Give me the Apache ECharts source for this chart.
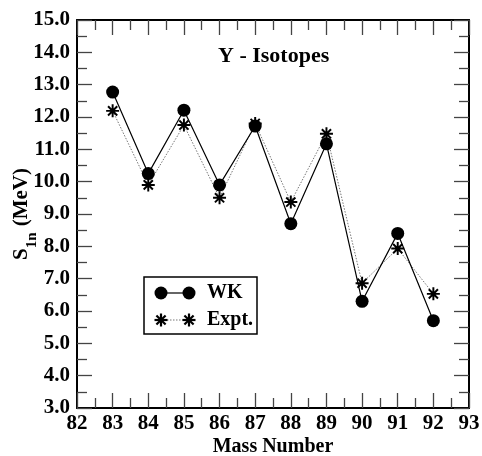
<!DOCTYPE html>
<html><head><meta charset="utf-8">
<script src="https://cdn.jsdelivr.net/npm/echarts@6/dist/echarts.min.js"></script>
<style>html,body{margin:0;padding:0;background:#fff}#c{width:482px;height:456px}</style>
</head><body><div id="c"></div>
<script>
const massNumbers = [83, 84, 85, 86, 87, 88, 89, 90, 91, 92];
const wkValues   = [12.77, 10.25, 12.21, 9.90, 11.72, 8.70, 11.17, 6.30, 8.40, 5.70];
const exptValues = [12.19, 9.90, 11.75, 9.50, 11.80, 9.37, 11.48, 6.86, 7.93, 6.53];
const xTickLabels = ['82','83','84','85','86','87','88','89','90','91','92','93'];
const yTickLabels = ['3.0','4.0','5.0','6.0','7.0','8.0','9.0','10.0','11.0','12.0','13.0','14.0','15.0'];
const seriesNames = ['WK', 'Expt.'];
const chartTitle = 'Y - Isotopes';

const FONT = '"Liberation Serif", "Times New Roman", serif';
const STAR = 'path://M-1.2,-8 L1.2,-8 L1.2,8 L-1.2,8 Z M-8,-1.2 L8,-1.2 L8,1.2 L-8,1.2 Z ' +
  'M6.505,4.808 L4.808,6.505 L-6.505,-4.808 L-4.808,-6.505 Z ' +
  'M-6.505,4.808 L4.808,-6.505 L6.505,-4.808 L-4.808,6.505 Z';

const wkData = massNumbers.map((m, i) => [m, wkValues[i]]);
const exData = massNumbers.map((m, i) => [m, exptValues[i]]);

const tickCommon = { inside: true, length: 15, lineStyle: { color: '#444', width: 1.3 } };
const minorCommon = { show: true, splitNumber: 2, length: 10, lineStyle: { color: '#444', width: 1.3 } };
const lineCommon = { show: true, onZero: false, lineStyle: { color: '#000', width: 2 } };

function starLines(cx, cy, r) {
  const out = [];
  const d = r * Math.SQRT1_2;
  const segs = [[0, -r, 0, r], [-r, 0, r, 0], [-d, -d, d, d], [-d, d, d, -d]];
  segs.forEach(s => out.push({ type: 'line', shape: { x1: cx + s[0], y1: cy + s[1], x2: cx + s[2], y2: cy + s[3] },
    style: { stroke: '#000', lineWidth: 2.2 }, z: 12 }));
  return out;
}

const chart = echarts.init(document.getElementById('c'), null, { renderer: 'canvas' });
chart.setOption({
  animation: false,
  backgroundColor: '#fff',
  grid: { left: 77, right: 13, top: 20, bottom: 48, containLabel: false, outerBoundsMode: 'none' },
  title: {
    text: chartTitle, left: 213, top: 40,
    textStyle: { fontFamily: FONT, fontWeight: 'bold', fontSize: 22, color: '#000' }
  },
  xAxis: [{
    type: 'value', min: 82, max: 93, interval: 1, position: 'bottom',
    axisLine: lineCommon, axisTick: tickCommon, minorTick: minorCommon,
    splitLine: { show: false }, minorSplitLine: { show: false },
    axisLabel: { margin: 5, fontFamily: FONT, fontWeight: 'bold', fontSize: 21, color: '#000',
      formatter: v => xTickLabels[Math.round(v - 82)] },
    name: 'Mass Number', nameLocation: 'middle', nameGap: 29, nameMoveOverlap: false,
    nameTextStyle: { fontFamily: FONT, fontWeight: 'bold', fontSize: 20, color: '#000' }
  }, {
    type: 'value', min: 82, max: 93, interval: 1, position: 'top',
    axisLine: lineCommon, axisTick: tickCommon, minorTick: minorCommon,
    splitLine: { show: false }, axisLabel: { show: false }
  }],
  yAxis: [{
    type: 'value', min: 3, max: 15, interval: 1, position: 'left',
    axisLine: lineCommon, axisTick: tickCommon, minorTick: minorCommon,
    splitLine: { show: false }, minorSplitLine: { show: false },
    axisLabel: { margin: 7, fontFamily: FONT, fontWeight: 'bold', fontSize: 21, color: '#000',
      formatter: v => yTickLabels[Math.round(v - 3)] },
    name: '{b|S}{s|1n}{b| (MeV)}', nameLocation: 'middle', nameGap: 45, nameRotate: 90, nameMoveOverlap: false,
    nameTextStyle: {
      rich: {
        b: { fontFamily: FONT, fontWeight: 'bold', fontSize: 21, color: '#000' },
        s: { fontFamily: FONT, fontWeight: 'bold', fontSize: 15, color: '#000', verticalAlign: 'bottom', padding: [0, 1, -8, 0] }
      }
    }
  }, {
    type: 'value', min: 3, max: 15, interval: 1, position: 'right',
    axisLine: lineCommon, axisTick: tickCommon, minorTick: minorCommon,
    splitLine: { show: false }, axisLabel: { show: false }
  }],
  series: [{
    name: seriesNames[1], type: 'line', data: exData, symbol: STAR, symbolSize: 13,
    itemStyle: { color: '#000' },
    lineStyle: { color: '#777', width: 1, type: [1.5, 1.5] }, z: 2
  }, {
    name: seriesNames[0], type: 'line', data: wkData, symbol: 'circle', symbolSize: 13,
    itemStyle: { color: '#000' },
    lineStyle: { color: '#000', width: 1.2 }, z: 3
  }],
  graphic: [
    { type: 'rect', shape: { x: 144, y: 277, width: 113, height: 57 }, style: { fill: '#fff', stroke: '#000', lineWidth: 1.5 }, z: 10 },
    { type: 'line', shape: { x1: 161, y1: 293, x2: 189, y2: 293 }, style: { stroke: '#000', lineWidth: 1.2 }, z: 11 },
    { type: 'circle', shape: { cx: 161, cy: 293, r: 6.5 }, style: { fill: '#000' }, z: 12 },
    { type: 'circle', shape: { cx: 189, cy: 293, r: 6.5 }, style: { fill: '#000' }, z: 12 },
    { type: 'text', x: 207, y: 293, style: { text: seriesNames[0], font: 'bold 20px ' + FONT, fill: '#000', verticalAlign: 'middle' }, z: 12 },
    { type: 'line', shape: { x1: 161, y1: 320, x2: 189, y2: 320 }, style: { stroke: '#777', lineWidth: 1, lineDash: [1.5, 1.5] }, z: 11 },
    ...starLines(161, 320, 6.5),
    ...starLines(189, 320, 6.5),
    { type: 'text', x: 207, y: 320, style: { text: seriesNames[1], font: 'bold 20px ' + FONT, fill: '#000', verticalAlign: 'middle' }, z: 12 }
  ]
});
</script></body></html>
